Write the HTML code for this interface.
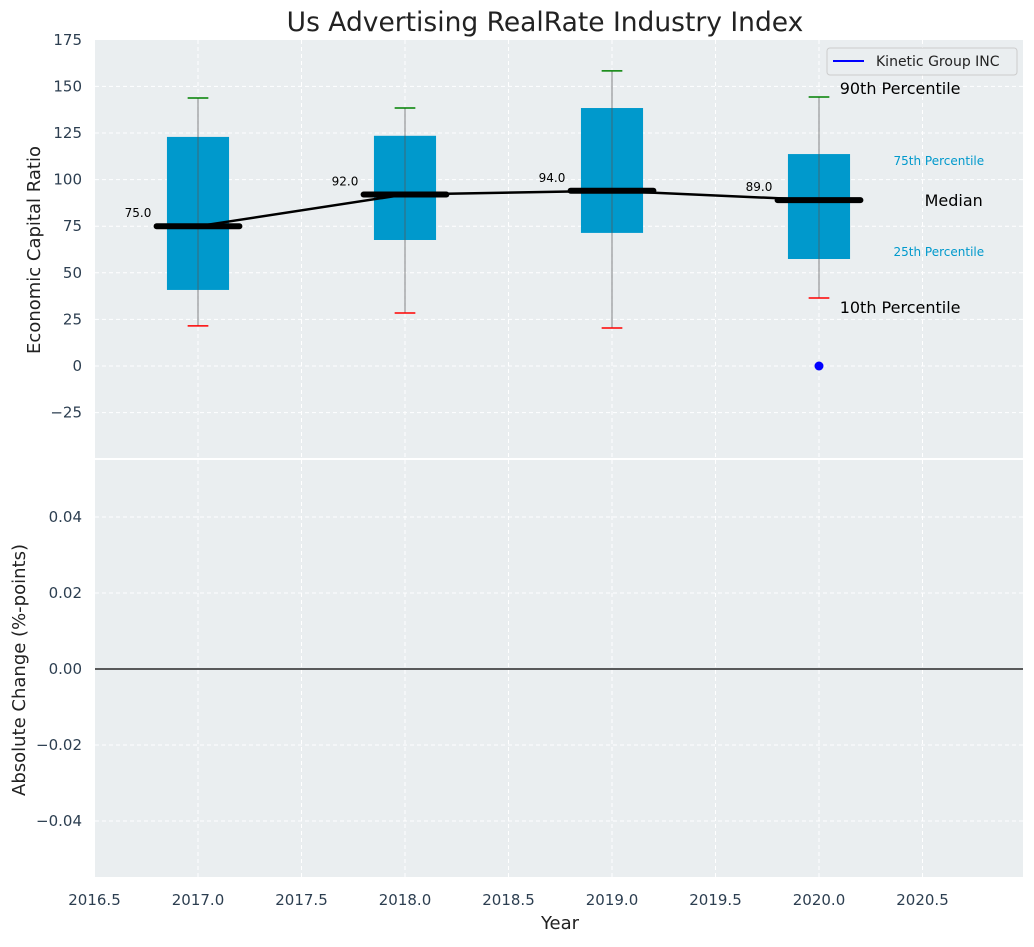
<!DOCTYPE html>
<html><head><meta charset="utf-8"><style>
body{margin:0;background:#fff;font-family:"Liberation Sans","DejaVu Sans",sans-serif;}
svg text{font-family:"DejaVu Sans","Liberation Sans",sans-serif;}
</style></head><body>
<svg id="c" width="1034" height="942" xmlns="http://www.w3.org/2000/svg"></svg>
<script>
const years=[2017,2018,2019,2020];
const p10=[21.5,28.4,20.4,36.5];
const p25=[40.8,67.6,71.4,57.4];
const medians=[75,92,94,89];
const p75=[122.9,123.5,138.4,113.7];
const p90=[143.8,138.4,158.3,144.3];
const companyYears=[2020];
const companyValues=[0];
const xTicks=[2016.5,2017,2017.5,2018,2018.5,2019,2019.5,2020,2020.5];
const yTicksTop=[-25,0,25,50,75,100,125,150,175];
const yTicksBot=[-0.04,-0.02,0,0.02,0.04];

const svg=document.getElementById('c');
const NS='http://www.w3.org/2000/svg';
function mk(t,a,txt){const e=document.createElementNS(NS,t);for(const k in a)e.setAttribute(k,a[k]);if(txt!==undefined)e.textContent=txt;svg.appendChild(e);return e;}
const L=95,R=1023,T1=40,B1=458,T2=460,B2=877;
const x=v=>198+(v-2017)*207;
const y1=v=>366-v*1.864;
const y2=v=>669-v*3800;

let e;
e=mk('rect',{x:L,y:T1,width:R-L,height:B1-T1,fill:'#eaeef0'});

e=mk('rect',{x:L,y:T2,width:R-L,height:B2-T2,fill:'#eaeef0'});


xTicks.forEach(t=>{
  [[T1,B1],[T2,B2]].forEach(([a,b])=>{e=mk('line',{x1:x(t),x2:x(t),y1:a,y2:b,stroke:'#fff','stroke-dasharray':'4,3','stroke-width':1});
  });
  e=mk('text',{x:x(t),y:905,'font-size':15,fill:'#2c3e50','text-anchor':'middle'},t.toFixed(1));
  
});
yTicksTop.forEach(t=>{
  if(y1(t)>T1+1){e=mk('line',{x1:L,x2:R,y1:y1(t),y2:y1(t),stroke:'#fff','stroke-dasharray':'4,3'});
  }
  e=mk('text',{x:82,y:y1(t)+5,'font-size':15,fill:'#2c3e50','text-anchor':'end'},(t<0?'\u2212'+(-t):String(t)));
  
});
yTicksBot.forEach(t=>{
  e=mk('line',{x1:L,x2:R,y1:y2(t),y2:y2(t),stroke:'#fff','stroke-dasharray':'4,3'});
  
  e=mk('text',{x:82,y:y2(t)+5,'font-size':15,fill:'#2c3e50','text-anchor':'end'},(t<0?'\u2212'+(-t).toFixed(2):t.toFixed(2)));
  
});
e=mk('line',{x1:L,x2:R,y1:y2(0),y2:y2(0),stroke:'#000','stroke-width':1.2});


years.forEach((yr,i)=>{
  const cx=x(yr);
  e=mk('rect',{x:x(yr-0.15),y:y1(p75[i]),width:x(yr+0.15)-x(yr-0.15),height:y1(p25[i])-y1(p75[i]),fill:'#0099cc'});
  
  e=mk('line',{x1:cx,x2:cx,y1:y1(p10[i]),y2:y1(p90[i]),stroke:'#555','stroke-width':1,opacity:0.7});
  
  e=mk('line',{x1:x(yr-0.05),x2:x(yr+0.05),y1:y1(p90[i]),y2:y1(p90[i]),stroke:'green','stroke-width':1.5});
  
  e=mk('line',{x1:x(yr-0.05),x2:x(yr+0.05),y1:y1(p10[i]),y2:y1(p10[i]),stroke:'red','stroke-width':1.5});
  
});
e=mk('polyline',{points:years.map((yr,i)=>x(yr)+','+y1(medians[i])).join(' '),fill:'none',stroke:'#000','stroke-width':2.5});

years.forEach((yr,i)=>{
  e=mk('line',{x1:x(yr-0.2),x2:x(yr+0.2),y1:y1(medians[i]),y2:y1(medians[i]),stroke:'#000','stroke-width':6,'stroke-linecap':'round'});
  
  e=mk('text',{x:x(yr-0.29),y:y1(medians[i])-9,'font-size':12,fill:'#000','text-anchor':'middle'},medians[i].toFixed(1));
  
});
companyYears.forEach((yr,i)=>{
  e=mk('circle',{cx:x(yr),cy:y1(companyValues[i]),r:4.5,fill:'blue'});
  
});
const last=3,ax=x(2020.1);
e=mk('text',{x:ax,y:y1(p90[last])-3,'font-size':16,fill:'#000'},'90th Percentile');

e=mk('text',{x:ax,y:y1(p10[last])+15,'font-size':16,fill:'#000'},'10th Percentile');

e=mk('text',{x:x(2020.36),y:y1(p75[last])+11,'font-size':12,fill:'#0099cc'},'75th Percentile');

e=mk('text',{x:x(2020.36),y:y1(p25[last])-3,'font-size':12,fill:'#0099cc'},'25th Percentile');

e=mk('text',{x:x(2020.51),y:y1(medians[last])+6,'font-size':16,fill:'#000'},'Median');

e=mk('rect',{x:827,y:48,width:190,height:27,rx:3,fill:'#eaeef0',stroke:'#ccc'});

e=mk('line',{x1:833,x2:864,y1:61,y2:61,stroke:'blue','stroke-width':2});

e=mk('text',{x:876,y:66,'font-size':14,fill:'#222'},'Kinetic Group INC');

e=mk('text',{x:545,y:31,'font-size':26.5,fill:'#222','text-anchor':'middle'},'Us Advertising RealRate Industry Index');

e=mk('text',{x:0,y:0,'font-size':18,fill:'#222','text-anchor':'middle',transform:'translate(40,250) rotate(-90)'},'Economic Capital Ratio');

e=mk('text',{x:0,y:0,'font-size':18,fill:'#222','text-anchor':'middle',transform:'translate(25,670) rotate(-90)'},'Absolute Change (%-points)');

e=mk('text',{x:560,y:929,'font-size':18,fill:'#222','text-anchor':'middle'},'Year');

</script>
</body></html>
